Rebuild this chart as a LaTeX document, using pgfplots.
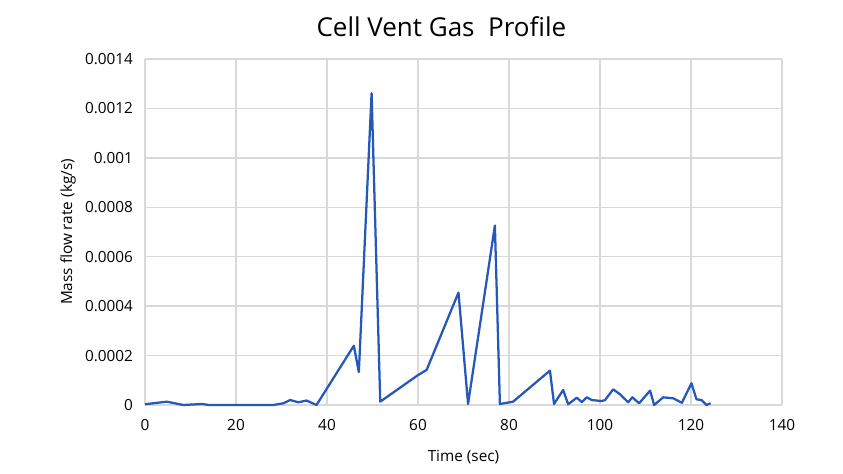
\documentclass[border=0pt]{standalone}
\usepackage{pgfplots}
\pgfplotsset{compat=1.18}
\usepackage{fontspec}
\setmainfont{Open Sans}
\definecolor{lineblue}{RGB}{38,88,186}
\definecolor{gridgray}{RGB}{217,217,217}

\begin{document}
\begin{tikzpicture}
    \useasboundingbox (0,0) rectangle (632.25pt,355.5pt);
    % title
    \node[font=\fontsize{19.5}{22}\selectfont] at (331pt,335.5pt) {Cell Vent Gas\ \ Profile};

    \begin{axis}[%
        at={(108.75pt,51.75pt)},
        anchor=south west,
        width=477.75pt,
        height=259.5pt,
        scale only axis,
        xmin=0, xmax=140,
        ymin=0, ymax=0.0014,
        xtick={0,20,...,140},
        ytick={0,0.0002,0.0004,0.0006,0.0008,0.001,0.0012,0.0014},
        yticklabels={0,0.0002,0.0004,0.0006,0.0008,0.001,0.0012,0.0014},
        scaled y ticks=false,
        /pgf/number format/assume math mode=true,
        tick label style={font=\fontsize{11.5}{13}\selectfont, black},
        yticklabel style={xshift=-5.5pt},
        xticklabel style={yshift=-7pt},
        tick style={draw=none},
        axis line style={draw=none},
        grid=major,
        major grid style={line width=1pt, draw=gridgray},
        xlabel={Time (sec)},
        ylabel={Mass flow rate (kg/s)},
        label style={font=\fontsize{11.5}{13}\selectfont},
        xlabel style={yshift=-8pt},
        ylabel style={yshift=0pt},
        clip=false,
    ]
    \addplot[color=lineblue, line width=1.7pt, line join=round, mark=none] coordinates{
        (0,0.000003)
        (4.8,0.0000134)
        (8.4,0)
        (12.5,0.000004)
        (14,0)
        (28.2,0)
        (30.4,0.000007)
        (31.9,0.00002)
        (33.7,0.000011)
        (35.5,0.000018)
        (37.7,0)
        (45.9,0.00024)
        (47.0,0.000133)
        (49.8,0.001262)
        (51.7,0.0000134)
        (60,0.000121)
        (61.9,0.000142)
        (68.9,0.000455)
        (71.0,0.000004)
        (76.9,0.000726)
        (78.0,0.000004)
        (80.9,0.0000134)
        (89.0,0.000139)
        (89.9,0.000004)
        (91.9,0.0000607)
        (93.0,0.000003)
        (94.9,0.0000296)
        (96.0,0.000012)
        (97.1,0.000031)
        (98.2,0.00002)
        (100.4,0.000016)
        (101.1,0.00002)
        (102.9,0.0000634)
        (104.4,0.0000432)
        (106.2,0.000011)
        (107.1,0.000031)
        (108.6,0.000007)
        (111.0,0.000058)
        (111.9,0)
        (113.9,0.000031)
        (116.1,0.000027)
        (118.0,0.000009)
        (120.1,0.000088)
        (121.2,0.000023)
        (122.3,0.00002)
        (123.4,0)
        (124.3,0.000007)
    };
    \end{axis}
\end{tikzpicture}
\end{document}
